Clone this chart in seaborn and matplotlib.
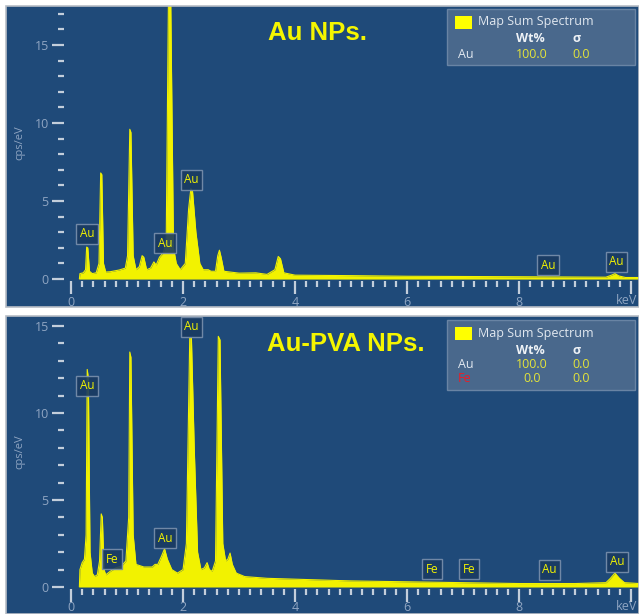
import matplotlib
matplotlib.use("Agg")
import matplotlib.pyplot as plt
import matplotlib.patches as mpatches
import numpy as np
import pandas as pd
import seaborn as sns

# ---------------- data ----------------
au_energy = [0.15, 0.16, 0.22, 0.26, 0.28, 0.30, 0.33, 0.38, 0.45, 0.50, 0.53, 0.55, 0.58, 0.62,
             0.70, 0.86, 0.97, 1.01, 1.05, 1.07, 1.11, 1.16, 1.22, 1.27, 1.30, 1.35, 1.42, 1.48,
             1.52, 1.58, 1.65, 1.70, 1.74, 1.78, 1.83, 1.88, 1.95, 2.04, 2.10, 2.14, 2.17, 2.23,
             2.30, 2.36, 2.45, 2.50, 2.58, 2.62, 2.65, 2.68, 2.73, 3.00, 3.30, 3.50, 3.64, 3.70,
             3.74, 3.80, 4.00, 5.00, 6.00, 8.00, 9.55, 9.65, 9.71, 9.78, 9.90, 10.14]
au_cps = [0.0, 0.35, 0.40, 0.60, 2.05, 2.00, 0.50, 0.35, 0.40, 1.00, 6.80, 6.70, 1.00, 0.45,
          0.47, 0.58, 0.70, 1.50, 9.60, 9.40, 1.50, 0.60, 0.80, 1.50, 1.40, 0.60, 0.70, 1.10,
          0.90, 1.40, 1.70, 2.50, 18.0, 18.0, 2.00, 1.00, 0.60, 1.00, 4.50, 5.80, 5.60, 3.00,
          1.00, 0.60, 0.60, 0.50, 0.50, 1.50, 1.85, 1.40, 0.50, 0.38, 0.40, 0.30, 0.60, 1.45,
          1.30, 0.40, 0.25, 0.22, 0.18, 0.15, 0.12, 0.25, 0.35, 0.20, 0.10, 0.10]

pva_energy = [0.15, 0.16, 0.20, 0.24, 0.27, 0.29, 0.31, 0.34, 0.38, 0.42, 0.47, 0.51, 0.54, 0.56,
              0.59, 0.62, 0.70, 0.80, 0.90, 0.98, 1.03, 1.05, 1.07, 1.11, 1.16, 1.30, 1.45, 1.50,
              1.55, 1.62, 1.67, 1.72, 1.80, 1.90, 2.00, 2.06, 2.12, 2.15, 2.20, 2.26, 2.32, 2.38,
              2.43, 2.47, 2.52, 2.58, 2.63, 2.66, 2.71, 2.76, 2.80, 2.84, 2.88, 2.95, 3.10, 3.50,
              4.00, 5.00, 6.00, 7.00, 8.00, 9.00, 9.55, 9.63, 9.71, 9.79, 9.88, 10.14]
pva_cps = [0.0, 1.00, 1.40, 1.60, 3.00, 12.5, 12.0, 2.00, 0.80, 0.60, 0.70, 1.50, 4.20, 4.00,
           1.00, 0.70, 0.90, 1.10, 1.20, 1.50, 4.00, 13.5, 13.2, 3.00, 1.30, 1.15, 1.15, 1.30,
           1.30, 1.80, 2.20, 1.60, 1.00, 0.80, 1.00, 2.50, 14.3, 14.3, 8.00, 2.00, 1.00, 1.10,
           1.40, 1.00, 0.90, 1.50, 14.4, 14.2, 2.50, 1.50, 1.60, 1.95, 1.30, 0.80, 0.60, 0.50,
           0.45, 0.35, 0.30, 0.25, 0.20, 0.20, 0.25, 0.50, 0.80, 0.50, 0.25, 0.20]

au_label_text = ["Au", "Au", "Au", "Au", "Au"]
au_label_kev = [0.29, 1.68, 2.15, 8.52, 9.74]
au_label_y = [2.9, 2.3, 6.35, 0.9, 1.1]

pva_label_text = ["Au", "Fe", "Au", "Au", "Fe", "Fe", "Au", "Au"]
pva_label_kev = [0.29, 0.73, 1.68, 2.15, 6.44, 7.10, 8.54, 9.75]
pva_label_y = [11.55, 1.6, 2.8, 14.95, 1.03, 1.03, 0.98, 1.44]

x_major = [0, 2, 4, 6, 8, 10]
x_major_labels = ["0", "2", "4", "6", "8", ""]

au_yticks = [0, 5, 10, 15]
pva_yticks = [0, 5, 10, 15]

# ---------------- style ----------------
sns.set_theme(style="white")
plt.rcParams["font.family"] = ["Open Sans", "DejaVu Sans"]

W, H = 639, 614
BG = "#1f4a79"
YEL = "#f2f200"
TICK = "#c3cedb"
TLAB = "#8fa5c2"

fig = plt.figure(figsize=(W / 100, H / 100), dpi=100)
fig.patch.set_facecolor("white")


def make_axes(top_px, bot_px):
    return fig.add_axes([6 / W, (H - bot_px) / H, 633 / W, (bot_px - top_px) / H])


def draw_panel(ax, energy, cps, ylim, yticks, spine_y, lab_text, lab_kev, lab_y, xpad):
    ax.set_facecolor(BG)
    df = pd.DataFrame({"keV": energy, "cps": cps})
    ax.fill_between(df["keV"], 0, df["cps"], color=YEL, lw=0, zorder=2)
    sns.lineplot(data=df, x="keV", y="cps", ax=ax, color=YEL, lw=0.8, zorder=3,
                 estimator=None, sort=False)
    ax.set_xlim(-1.16, 10.14)
    ax.set_ylim(*ylim)
    ax.spines["left"].set_position(("data", -0.125))
    ax.spines["bottom"].set_position(("data", spine_y))
    for s in ax.spines.values():
        s.set_color("none")
    ax.set_xticks(x_major)
    ax.set_xticklabels(x_major_labels)
    ax.set_xticks(np.arange(0.2, 10.01, 0.2), minor=True)
    ax.set_yticks(yticks)
    ax.set_yticklabels([str(t) for t in yticks])
    ax.set_yticks(np.arange(1, ylim[1], 1), minor=True)
    ax.tick_params(axis="both", which="major", direction="out", length=9, width=1.6,
                   color=TICK, labelcolor=TLAB, labelsize=9, pad=2)
    ax.tick_params(axis="x", which="major", pad=xpad)
    ax.tick_params(axis="both", which="minor", direction="out", length=4, width=1.6,
                   color=TICK)
    ax.tick_params(axis="x", which="both", bottom=True)
    ax.tick_params(axis="y", which="both", left=True)
    ax.set_xlabel("")
    ax.set_ylabel("")
    ax.text(0.022, 0.545, "cps/eV", transform=ax.transAxes, rotation=90, color=TLAB,
            fontsize=8, ha="center", va="center")
    ax.text(10.1, spine_y, "keV", color=TLAB, fontsize=9, ha="right", va="top",
            transform=ax.transData + matplotlib.transforms.ScaledTranslation(
                0, -(9 + xpad + 2) / 100 * 100 / 72 * 0.72, fig.dpi_scale_trans))
    for t, k, yv in zip(lab_text, lab_kev, lab_y):
        ax.text(k, yv, t, color=YEL, fontsize=8.5, ha="center", va="center", zorder=6,
                bbox=dict(boxstyle="square,pad=0.3", fc="#1a3b62", ec="#7a90ad", lw=1.0, alpha=0.9))
    # light frame
    ax.add_patch(mpatches.Rectangle((0, 0), 1, 1, transform=ax.transAxes, fill=False,
                                    ec="#b8bec6", lw=1.2, zorder=10, clip_on=False))


ax1 = make_axes(6, 307)
draw_panel(ax1, au_energy, au_cps, (-1.79, 17.5), au_yticks, -0.13,
           au_label_text, au_label_kev, au_label_y, 1.5)
ax2 = make_axes(316, 614)
draw_panel(ax2, pva_energy, pva_cps, (-1.55, 15.57), pva_yticks, -0.1,
           pva_label_text, pva_label_kev, pva_label_y, 0.0)


def fx(x):
    return x / W


def fy(y):
    return 1 - y / H


# titles
fig.text(fx(318), fy(33), "Au NPs.", color="#f5f500", fontsize=18.5, fontweight="bold",
         family=["Liberation Sans", "DejaVu Sans"], ha="center", va="center")
fig.text(fx(346), fy(344), "Au-PVA NPs.", color="#f5f500", fontsize=18.5, fontweight="bold",
         family=["Liberation Sans", "DejaVu Sans"], ha="center", va="center")


def legend(top, bottom, rows, sq_top):
    fig.patches.append(mpatches.Rectangle((fx(447), fy(bottom)), (635 - 447) / W, (bottom - top) / H,
                                          transform=fig.transFigure, fc="#4c6a8e", ec="#6d87a6",
                                          lw=1.0, alpha=0.95, zorder=1))
    fig.patches.append(mpatches.Rectangle((fx(455), fy(sq_top + 13)), 17 / W, 13 / H,
                                          transform=fig.transFigure, fc="#ffff00", ec="none", zorder=2))
    fig.text(fx(478), fy(sq_top + 6), "Map Sum Spectrum", color="#e2e8f0", fontsize=9,
             ha="left", va="center")
    fig.text(fx(530), fy(sq_top + 23), "Wt%", color="#eef2f6", fontsize=9, fontweight="bold",
             ha="center", va="center")
    fig.text(fx(577), fy(sq_top + 23), "σ", color="#eef2f6", fontsize=9, fontweight="bold",
             ha="center", va="center")
    for i, (el, col, wt, sg) in enumerate(rows):
        yy = sq_top + 38 + i * 14
        fig.text(fx(458), fy(yy), el, color=col, fontsize=9, ha="left", va="center")
        fig.text(fx(532), fy(yy), wt, color="#e4e43a", fontsize=9, ha="center", va="center")
        fig.text(fx(581), fy(yy), sg, color="#e4e43a", fontsize=9, ha="center", va="center")


legend(9, 65, [("Au", "#e2e8f0", "100.0", "0.0")], 16)
legend(320, 390, [("Au", "#e2e8f0", "100.0", "0.0"), ("Fe", "#ee1c24", "0.0", "0.0")], 327)

fig.savefig("out.png", dpi=100, facecolor="white")
